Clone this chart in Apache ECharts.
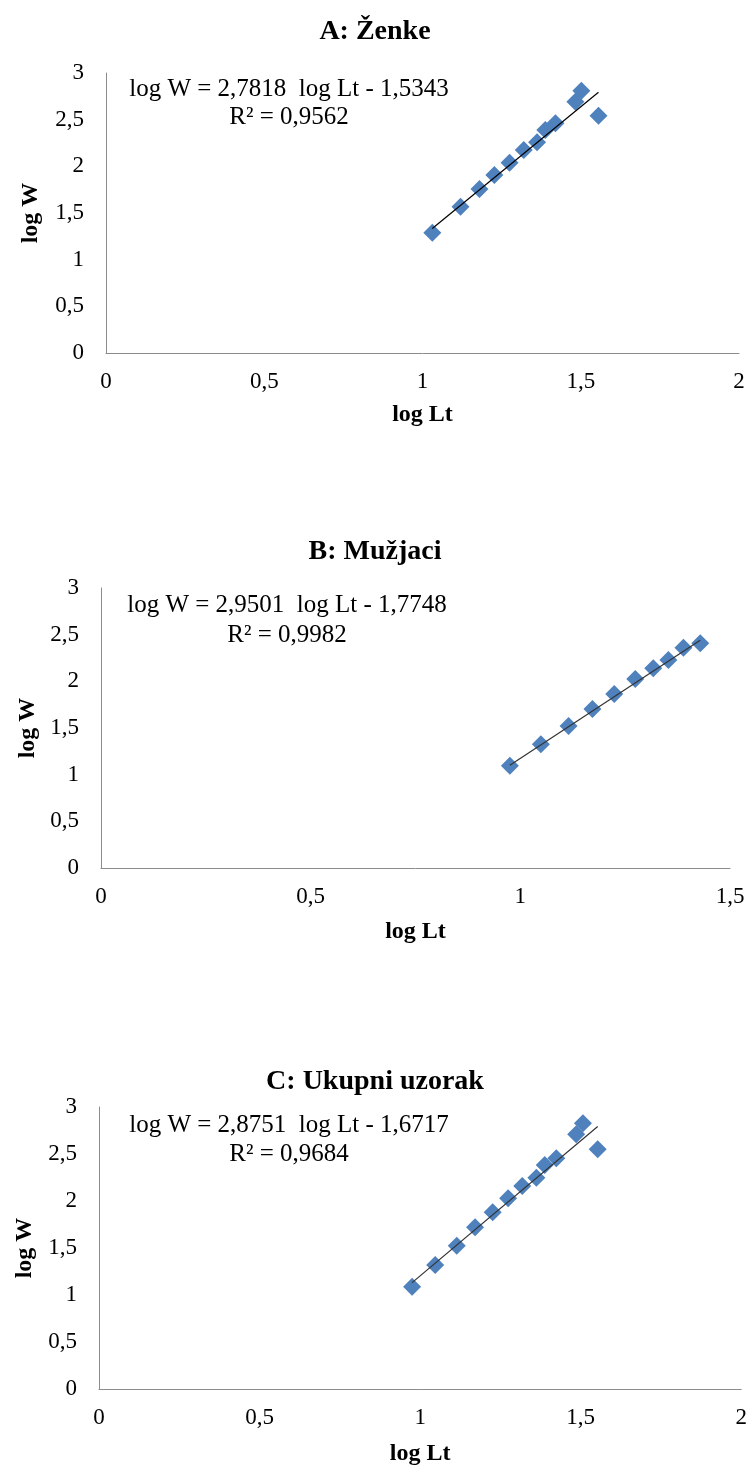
<!DOCTYPE html>
<html>
<head>
<meta charset="utf-8">
<script src="https://cdn.jsdelivr.net/npm/echarts@6/dist/echarts.min.js"></script>
<style>
html,body{margin:0;padding:0;background:#fff;}
#chart{width:750px;height:1472px;}
</style>
</head>
<body>
<div id="chart"></div>
<script>
// ---- data ----
const panelTitles = ['A: Ženke', 'B: Mužjaci', 'C: Ukupni uzorak'];
const equationTexts = ['log W = 2,7818  log Lt - 1,5343', 'log W = 2,9501  log Lt - 1,7748', 'log W = 2,8751  log Lt - 1,6717'];
const r2Texts = ['R² = 0,9562', 'R² = 0,9982', 'R² = 0,9684'];
const trendSlopes = [2.7818, 2.9501, 2.8751];
const trendIntercepts = [-1.5343, -1.7748, -1.6717];

const femaleLogLt = [1.031, 1.120, 1.180, 1.227, 1.275, 1.320, 1.362, 1.388, 1.420, 1.483, 1.502, 1.556];
const femaleLogW  = [1.289, 1.568, 1.757, 1.907, 2.039, 2.175, 2.258, 2.389, 2.461, 2.693, 2.810, 2.543];

const maleLogLt = [0.975, 1.049, 1.115, 1.172, 1.224, 1.274, 1.317, 1.353, 1.389, 1.429];
const maleLogW  = [1.096, 1.325, 1.521, 1.704, 1.864, 2.025, 2.139, 2.229, 2.361, 2.407];

const totalLogLt = [0.975, 1.047, 1.114, 1.171, 1.226, 1.274, 1.318, 1.362, 1.388, 1.424, 1.486, 1.507, 1.553];
const totalLogW  = [1.088, 1.319, 1.524, 1.720, 1.880, 2.029, 2.160, 2.248, 2.383, 2.454, 2.710, 2.827, 2.550];

const xAxisMax = [2, 1.5, 2];
const yTicks = [0, 0.5, 1, 1.5, 2, 2.5, 3];
const xAxisName = 'log Lt';
const yAxisName = 'log W';

// ---- layout ----
const FONT = '"Liberation Serif", "Times New Roman", serif';
const grids = [
  {left: 106, top: 73, width: 633, height: 280},
  {left: 101, top: 588, width: 629, height: 280},
  {left: 99, top: 1107, width: 645, height: 282}
];
const titleTops = [13, 533, 1063];
const eqY = [[89, 117], [605, 635], [1125, 1154]];
const eqX = [289, 287, 289];
const xNameGaps = [50, 52, 53];
const yNameGaps = [63, 60, 62];

const xs = [femaleLogLt, maleLogLt, totalLogLt];
const ys = [femaleLogW, maleLogW, totalLogW];

const fmt = v => String(v).replace('.', ',');

const option = {
  backgroundColor: '#fff',
  animation: false,
  title: panelTitles.map((t, i) => ({
    text: t, left: 'center', top: titleTops[i],
    textStyle: {fontFamily: FONT, fontSize: 28, fontWeight: 'bold', color: '#000'}
  })),
  grid: grids,
  xAxis: grids.map((g, i) => ({
    type: 'value', gridIndex: i, min: 0, max: xAxisMax[i], interval: 0.5,
    name: xAxisName, nameLocation: 'middle', nameGap: xNameGaps[i],
    nameTextStyle: {fontFamily: FONT, fontSize: 24, fontWeight: 'bold', color: '#000'},
    axisLine: {show: true, lineStyle: {color: '#8c8c8c', width: 1}},
    axisTick: {show: false},
    splitLine: {show: false},
    axisLabel: {fontFamily: FONT, fontSize: 23, color: '#000', margin: 17, formatter: fmt}
  })),
  yAxis: grids.map((g, i) => ({
    type: 'value', gridIndex: i, min: yTicks[0], max: yTicks[yTicks.length - 1], interval: 0.5,
    name: yAxisName, nameLocation: 'middle', nameGap: yNameGaps[i],
    nameTextStyle: {fontFamily: FONT, fontSize: 24, fontWeight: 'bold', color: '#000'},
    axisLine: {show: true, lineStyle: {color: '#8c8c8c', width: 1}},
    axisTick: {show: false},
    splitLine: {show: false},
    axisLabel: {fontFamily: FONT, fontSize: 23, color: '#000', margin: 22, formatter: fmt}
  })),
  graphic: [].concat(...equationTexts.map((t, i) => ([
    {type: 'text', x: eqX[i], y: eqY[i][0], z: 10,
     style: {text: t, font: '25px ' + FONT, fill: '#000', align: 'center', verticalAlign: 'middle'}},
    {type: 'text', x: eqX[i], y: eqY[i][1], z: 10,
     style: {text: r2Texts[i], font: '25px ' + FONT, fill: '#000', align: 'center', verticalAlign: 'middle'}}
  ]))),
  series: [].concat(...xs.map((xv, i) => {
    const pts = xv.map((x, k) => [x, ys[i][k]]);
    const xmin = Math.min(...xv), xmax = Math.max(...xv);
    const trend = [xmin, xmax].map(x => [x, trendSlopes[i] * x + trendIntercepts[i]]);
    return [
      {type: 'scatter', xAxisIndex: i, yAxisIndex: i, data: pts, symbol: 'diamond', symbolSize: 18,
       itemStyle: {color: '#4F81BD', opacity: 1}, z: 2},
      {type: 'line', xAxisIndex: i, yAxisIndex: i, data: trend, symbol: 'none',
       lineStyle: {color: i === 0 ? '#000' : '#333', width: 1.2}, z: 3}
    ];
  }))
};

const chart = echarts.init(document.getElementById('chart'), null, {renderer: 'canvas'});
chart.setOption(option);
</script>
</body>
</html>
